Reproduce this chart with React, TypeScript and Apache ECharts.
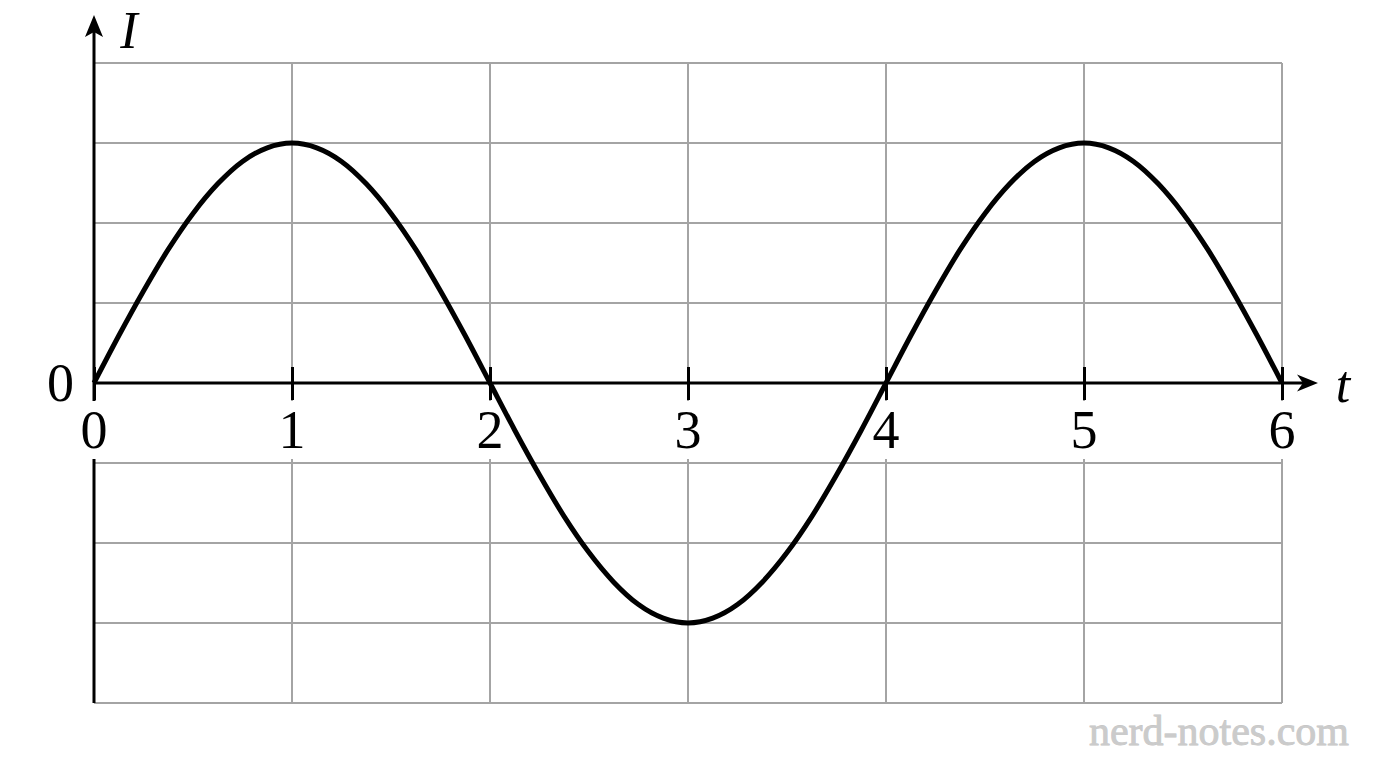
import React, { useEffect, useRef } from "react";
import * as echarts from "echarts";

// Time values (t) and current values (I)
const tValues = [
  0, 0.125, 0.25, 0.375, 0.5, 0.625, 0.75, 0.875, 1, 1.125, 1.25, 1.375, 1.5, 1.625, 1.75, 1.875,
  2, 2.125, 2.25, 2.375, 2.5, 2.625, 2.75, 2.875, 3, 3.125, 3.25, 3.375, 3.5, 3.625, 3.75, 3.875,
  4, 4.125, 4.25, 4.375, 4.5, 4.625, 4.75, 4.875, 5, 5.125, 5.25, 5.375, 5.5, 5.625, 5.75, 5.875, 6,
];
const currentValues = [
  0, 0.59, 1.15, 1.67, 2.12, 2.49, 2.77, 2.94, 3, 2.94, 2.77, 2.49, 2.12, 1.67, 1.15, 0.59,
  0, -0.59, -1.15, -1.67, -2.12, -2.49, -2.77, -2.94, -3, -2.94, -2.77, -2.49, -2.12, -1.67, -1.15, -0.59,
  0, 0.59, 1.15, 1.67, 2.12, 2.49, 2.77, 2.94, 3, 2.94, 2.77, 2.49, 2.12, 1.67, 1.15, 0.59, 0,
];

const xMin = 0;
const xMax = 6;
const yMin = -4;
const yMax = 4;
const xAxisName = "t";
const yAxisName = "I";
const watermark = "nerd-notes.com";

export default function App() {
  const ref = useRef<HTMLDivElement>(null);

  useEffect(() => {
    if (!ref.current) return;
    const chart = echarts.init(ref.current, null, { renderer: "svg" });
    const serif = "'Liberation Serif', 'DejaVu Serif', serif";
    const grey = "#a4a4a4";
    const data = tValues.map((t, i) => [t, currentValues[i]]);

    chart.setOption({
      animation: false,
      backgroundColor: "#ffffff",
      grid: { left: 94, right: 94, top: 63, bottom: 65, containLabel: false, outerBoundsMode: "none" },
      xAxis: [
        {
          type: "value", min: xMin, max: xMax, interval: 1, position: "bottom", z: 0,
          axisLine: { show: false, onZero: false },
          axisTick: { show: false }, axisLabel: { show: false },
          splitLine: { show: true, lineStyle: { color: grey, width: 2 } },
        },
        {
          type: "value", min: xMin, max: xMax, interval: 1, position: "bottom", z: 2, offset: 0,
          axisLine: { show: false, onZero: false },
          axisTick: { show: true, inside: false, length: 17, lineStyle: { color: "#000", width: 3 } },
          axisLabel: {
            show: true, fontSize: 54, fontFamily: serif, color: "#000", margin: 18,
            backgroundColor: "#ffffff", padding: [0, 3], lineHeight: 58,
          },
          splitLine: { show: false },
        },
        {
          type: "value", min: xMin, max: xMax, interval: 1, position: "bottom", z: 2, offset: 0,
          axisLine: { show: false, onZero: false },
          axisTick: { show: true, inside: true, length: 16, lineStyle: { color: "#000", width: 3 } },
          axisLabel: { show: false },
          splitLine: { show: false },
        },
      ],
      yAxis: [
        {
          type: "value", min: yMin, max: yMax, interval: 1, z: 0,
          axisLine: { show: false, onZero: false },
          axisTick: { show: false },
          axisLabel: {
            show: true, fontSize: 54, fontFamily: serif, color: "#000", margin: 20,
            formatter: (v: number) => (v === 0 ? "0" : ""),
          },
          splitLine: { show: true, lineStyle: { color: grey, width: 2 } },
        },
      ],
      series: [
        {
          type: "line", xAxisIndex: 0, yAxisIndex: 0, data, smooth: 0.3, symbol: "none",
          lineStyle: { color: "#000", width: 5 }, z: 3,
        },
      ],
    });

    const px = (x: number, y: number) => chart.convertToPixel({ gridIndex: 0 }, [x, y]) as number[];
    const o = px(xMin, 0);
    const top = px(xMin, yMax);
    const bot = px(xMin, yMin);
    const right = px(xMax, 0);
    const zeroOffset = o[1] - bot[1]; // negative: moves bottom axis up to zero line

    chart.setOption({
      xAxis: [{}, { offset: zeroOffset }, { offset: zeroOffset }],
      graphic: {
        elements: [
          { type: "line", z: 1, shape: { x1: o[0], y1: bot[1], x2: o[0], y2: top[1] - 38 }, style: { stroke: "#000", lineWidth: 3 } },
          {
            type: "polygon", z: 1,
            shape: { points: [[o[0], top[1] - 48], [o[0] + 9, top[1] - 26], [o[0], top[1] - 31], [o[0] - 9, top[1] - 26]] },
            style: { fill: "#000" },
          },
          { type: "line", z: 1, shape: { x1: o[0], y1: o[1], x2: right[0] + 26, y2: o[1] }, style: { stroke: "#000", lineWidth: 3 } },
          {
            type: "polygon", z: 1,
            shape: { points: [[right[0] + 36, o[1]], [right[0] + 15, o[1] - 8.5], [right[0] + 21, o[1]], [right[0] + 15, o[1] + 8.5]] },
            style: { fill: "#000" },
          },
          {
            type: "text", z: 5, x: o[0] + 35, y: top[1] - 33,
            style: { text: yAxisName, font: `italic 52px ${serif}`, fill: "#000", align: "center", verticalAlign: "middle" },
          },
          {
            type: "text", z: 5, x: right[0] + 61, y: o[1] + 1,
            style: { text: xAxisName, font: `italic 52px ${serif}`, fill: "#000", align: "center", verticalAlign: "middle" },
          },
          {
            type: "text", z: 5, x: 1349, y: 731,
            style: {
              text: watermark, font: `42px ${serif}`, fill: "#cbcbcb", align: "right", verticalAlign: "middle",
              stroke: "#c4c4c4", lineWidth: 0.8,
              shadowColor: "rgba(0,0,0,0.3)", shadowBlur: 1, shadowOffsetX: 1, shadowOffsetY: 1,
            },
          },
        ],
      },
    });

    return () => chart.dispose();
  }, []);

  return (
    <div
      ref={ref}
      style={{ position: "absolute", left: 0, top: 0, width: 1376, height: 768, background: "#fff" }}
    />
  );
}
